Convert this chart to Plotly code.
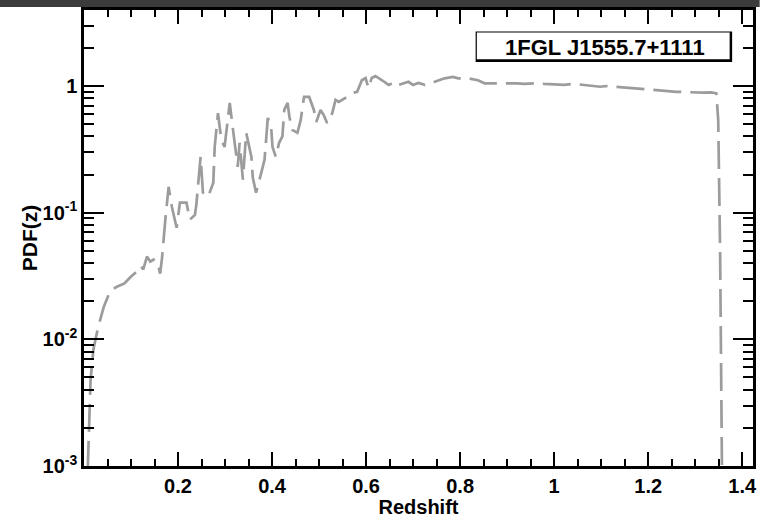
import plotly.graph_objects as go

# Photometric redshift probability density for the source
redshift = [
    0.008, 0.011, 0.014, 0.020, 0.029, 0.042, 0.056, 0.071, 0.086, 0.099,
    0.111, 0.120, 0.126, 0.134, 0.141, 0.148, 0.156, 0.162, 0.166, 0.173,
    0.180, 0.187, 0.197, 0.204, 0.218, 0.225, 0.236, 0.239, 0.248, 0.253,
    0.264, 0.275, 0.278, 0.285, 0.292, 0.299, 0.306, 0.310, 0.317, 0.320,
    0.327, 0.331, 0.338, 0.345, 0.348, 0.356, 0.359, 0.366, 0.377, 0.384,
    0.391, 0.398, 0.401, 0.408, 0.415, 0.422, 0.426, 0.433, 0.437, 0.443,
    0.454, 0.461, 0.468, 0.479, 0.489, 0.494, 0.503, 0.510, 0.517, 0.528,
    0.535, 0.542, 0.556, 0.570, 0.581, 0.591, 0.599, 0.605, 0.612, 0.620,
    0.634, 0.648, 0.662, 0.669, 0.690, 0.700, 0.711, 0.725, 0.746, 0.767,
    0.785, 0.796, 0.817, 0.838, 0.852, 0.866, 0.887, 0.908, 0.922, 0.936,
    0.965, 0.979, 1.021, 1.042, 1.098, 1.112, 1.176, 1.232, 1.260, 1.317,
    1.334, 1.345, 1.349, 1.353, 1.357,
]
pdf = [
    0.00095, 0.0023, 0.0048, 0.0083, 0.012, 0.018, 0.0243, 0.0261, 0.0276, 0.031,
    0.034, 0.038, 0.0356, 0.045, 0.041, 0.0426, 0.041, 0.033, 0.044, 0.088,
    0.16, 0.111, 0.076, 0.12, 0.12, 0.088, 0.096, 0.116, 0.276, 0.144,
    0.134, 0.172, 0.33, 0.61, 0.376, 0.33, 0.57, 0.735, 0.45, 0.376,
    0.23, 0.356, 0.182, 0.427, 0.376, 0.276, 0.189, 0.144, 0.206, 0.261,
    0.56, 0.475, 0.33, 0.276, 0.356, 0.40, 0.647, 0.735, 0.57, 0.45,
    0.427, 0.54, 0.82, 0.82, 0.647, 0.52, 0.647, 0.59, 0.51, 0.61,
    0.776, 0.748, 0.805, 0.88, 0.90, 1.11, 1.156, 0.964, 1.156, 1.2,
    1.11, 1.02, 1.08, 1.02, 1.08, 1.02, 1.056, 1.02, 1.08, 1.15,
    1.18, 1.15, 1.15, 1.11, 1.05, 1.05, 1.05, 1.06, 1.05, 1.04,
    1.05, 1.04, 1.02, 1.04, 0.987, 1.0, 0.96, 0.92, 0.90, 0.886,
    0.89, 0.876, 0.54, 0.051, 0.00093,
]

x_tickvals = [0.2, 0.4, 0.6, 0.8, 1.0, 1.2, 1.4]
x_ticktext = ["0.2", "0.4", "0.6", "0.8", "1", "1.2", "1.4"]
y_tickvals = [0.001, 0.01, 0.1, 1]
y_ticktext = ["10<sup>-3</sup>", "10<sup>-2</sup>", "10<sup>-1</sup>", "1"]
y_minorvals = [m * 10.0 ** e for e in (-3, -2, -1, 0) for m in range(2, 10)]

source_name = "1FGL J1555.7+1111"

FONT = "Liberation Sans"

fig = go.Figure()
fig.add_trace(go.Scatter(
    x=redshift, y=pdf, mode="lines",
    line=dict(color="#9c9c9c", width=2.7, dash="28px,9px"),
    showlegend=False, hoverinfo="skip",
))

axis_common = dict(
    showline=True, linecolor="black", linewidth=2.5, mirror="allticks",
    ticks="inside", tickcolor="black", tickwidth=2,
    showgrid=False, zeroline=False,
    tickfont=dict(family=FONT, size=20, color="black", weight="bold"),
)

fig.update_layout(
    width=763, height=518, autosize=False,
    margin=dict(l=84, r=6, t=10, b=51),
    paper_bgcolor="white", plot_bgcolor="white",
    xaxis=dict(
        **axis_common,
        range=[0, 1.423],
        tickmode="array", tickvals=x_tickvals, ticktext=x_ticktext,
        ticklen=14,
        minor=dict(ticks="inside", ticklen=7, tickwidth=1.5, tickcolor="black",
                   tickmode="linear", tick0=0, dtick=0.05, showgrid=False),
        title=dict(text="Redshift", standoff=1,
                   font=dict(family=FONT, size=20, color="black", weight="bold")),
    ),
    yaxis=dict(
        **axis_common,
        type="log", range=[-3, 0.6],
        tickmode="array", tickvals=y_tickvals, ticktext=y_ticktext,
        ticklen=20,
        minor=dict(ticks="inside", ticklen=10, tickwidth=1.5, tickcolor="black",
                   tickmode="array", tickvals=y_minorvals, showgrid=False),
        title=dict(text="PDF(z)", standoff=0,
                   font=dict(family=FONT, size=21, color="black", weight="bold")),
    ),
    shapes=[
        # dark strip along the top edge
        dict(type="rect", xref="paper", yref="paper",
             x0=-0.13, x1=1.01, y0=1.0066, y1=1.03,
             fillcolor="#3c3c3c", line=dict(width=0), layer="above"),
        # label box with a drop edge
        dict(type="rect", xref="paper", yref="paper",
             x0=0.5854, x1=0.9688, y0=0.8862, y1=0.9530,
             fillcolor="black", line=dict(width=0), layer="above"),
        dict(type="rect", xref="paper", yref="paper",
             x0=0.5872, x1=0.9651, y0=0.8921, y1=0.9504,
             fillcolor="white", line=dict(width=0), layer="above"),
    ],
    annotations=[
        dict(text=source_name, xref="paper", yref="paper",
             x=0.779, y=0.918, xanchor="center", yanchor="middle",
             showarrow=False,
             font=dict(family=FONT, size=22, color="black", weight="bold")),
    ],
)

fig.write_html("out.html")
